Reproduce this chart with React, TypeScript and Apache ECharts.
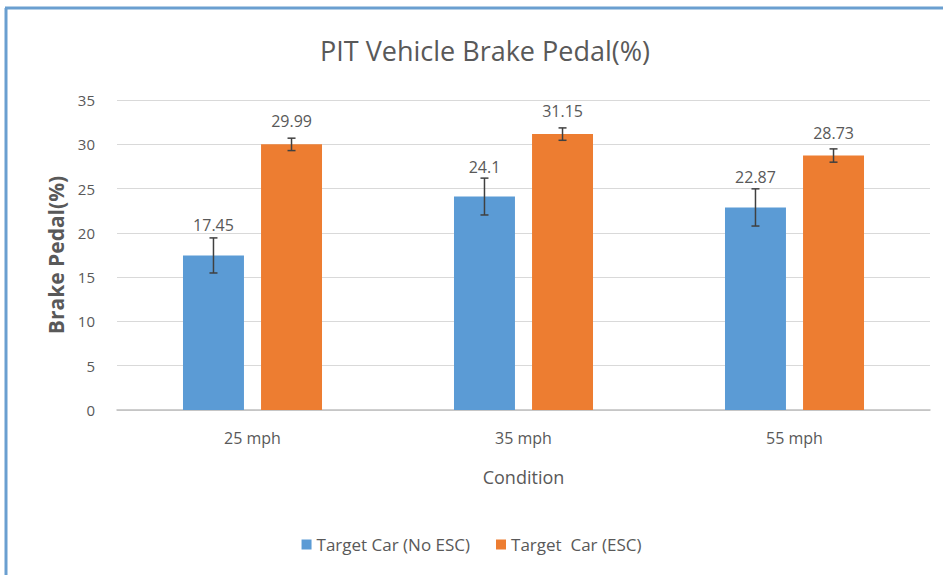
import React, { useEffect, useRef } from "react";
import * as echarts from "echarts";

const categories = ["25 mph", "35 mph", "55 mph"];
const seriesNames = ["Target Car (No ESC)", "Target  Car (ESC)"];
const noEscValues = [17.45, 24.1, 22.87];
const escValues = [29.99, 31.15, 28.73];
const noEscErrors = [1.98, 2.08, 2.1];
const escErrors = [0.7, 0.7, 0.75];

const FONT = "'Open Sans', 'Noto Sans', sans-serif";
const TEXT = "#595959";
const BAR_W = 0.225;
const BAR_GAP = 0.28;

function errorSeries(values: number[], errors: number[], side: number) {
  return {
    type: "custom",
    silent: true,
    z: 10,
    data: values.map((v, i) => [i, v - errors[i], v + errors[i]]),
    renderItem: (params: any, api: any) => {
      const idx = api.value(0);
      const band = api.size([1, 0])[0];
      const bw = band * BAR_W;
      const off = side * (bw * BAR_GAP / 2 + bw / 2);
      const lo = api.coord([idx, api.value(1)]);
      const hi = api.coord([idx, api.value(2)]);
      const x = lo[0] + off;
      const cap = 4;
      const style = { stroke: "#404040", lineWidth: 1.5 };
      return {
        type: "group",
        children: [
          { type: "line", shape: { x1: x, y1: lo[1], x2: x, y2: hi[1] }, style },
          { type: "line", shape: { x1: x - cap, y1: lo[1], x2: x + cap, y2: lo[1] }, style },
          { type: "line", shape: { x1: x - cap, y1: hi[1], x2: x + cap, y2: hi[1] }, style },
        ],
      };
    },
  };
}

export default function App() {
  const ref = useRef<HTMLDivElement>(null);
  useEffect(() => {
    document.body.style.margin = "0";
    const chart = echarts.init(ref.current!, null, { renderer: "svg" });
    const label = (distance: number) => ({
      show: true,
      position: "top",
      distance,
      color: TEXT,
      fontSize: 16,
      fontFamily: FONT,
    });
    chart.setOption({
      animation: false,
      backgroundColor: "#ffffff",
      title: {
        text: "PIT Vehicle Brake Pedal(%)",
        left: 480,
        top: 32,
        textAlign: "center",
        textStyle: { color: TEXT, fontSize: 27, fontWeight: "normal", fontFamily: FONT },
      },
      legend: {
        data: seriesNames,
        bottom: 17,
        left: "center",
        itemWidth: 10,
        itemHeight: 10,
        itemGap: 26,
        icon: "rect",
        textStyle: { color: TEXT, fontSize: 17, fontFamily: FONT },
      },
      grid: { left: 117, right: 13, top: 100, bottom: 165 },
      xAxis: {
        type: "category",
        data: categories,
        name: "Condition",
        nameLocation: "middle",
        nameGap: 58,
        nameTextStyle: { color: TEXT, fontSize: 18, fontFamily: FONT },
        axisLine: { lineStyle: { color: "#bfbfbf", width: 1.5 } },
        axisTick: { show: false },
        axisLabel: { color: TEXT, fontSize: 16, fontFamily: FONT, margin: 20 },
      },
      yAxis: {
        type: "value",
        min: 0,
        max: 35,
        interval: 5,
        name: "Brake Pedal(%)",
        nameLocation: "middle",
        nameGap: 51,
        nameTextStyle: { color: TEXT, fontSize: 21, fontWeight: "bold", fontFamily: FONT },
        axisLine: { show: false },
        axisTick: { show: false },
        axisLabel: { color: TEXT, fontSize: 15, fontFamily: FONT, margin: 22 },
        splitLine: { lineStyle: { color: "#d9d9d9", width: 1 } },
      },
      series: [
        {
          name: seriesNames[0],
          type: "bar",
          data: noEscValues,
          barWidth: BAR_W * 100 + "%",
          barGap: BAR_GAP * 100 + "%",
          itemStyle: { color: "#5b9bd5" },
          label: label(22),
        },
        {
          name: seriesNames[1],
          type: "bar",
          data: escValues,
          barWidth: BAR_W * 100 + "%",
          barGap: BAR_GAP * 100 + "%",
          itemStyle: { color: "#ed7d31" },
          label: label(15),
        },
        errorSeries(noEscValues, noEscErrors, -1),
        errorSeries(escValues, escErrors, 1),
      ],
      graphic: [
        { type: "line", shape: { x1: 6, y1: 8, x2: 6, y2: 575 }, style: { stroke: "#6a9fd0", lineWidth: 3 } },
        { type: "line", shape: { x1: 5, y1: 8, x2: 943, y2: 8 }, style: { stroke: "#6a9fd0", lineWidth: 3 } },
      ],
    });
    return () => chart.dispose();
  }, []);
  return <div ref={ref} style={{ width: 943, height: 575 }} />;
}
